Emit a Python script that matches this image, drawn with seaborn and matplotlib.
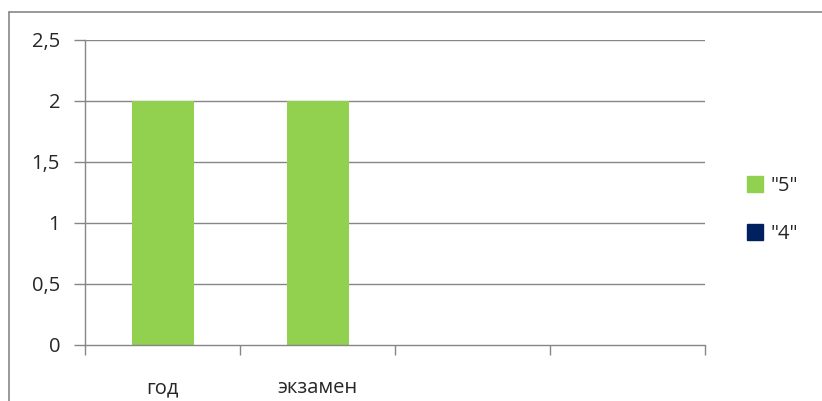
import matplotlib
matplotlib.use("Agg")
import matplotlib.pyplot as plt
from matplotlib.lines import Line2D
import seaborn as sns
import pandas as pd

categories = ["год", "экзамен", " ", "  "]
series_names = ['"5"', '"4"']
values_5 = [2, 2, 0, 0]
values_4 = [0, 0, 0, 0]
colors = ["#92D050", "#002060"]
yticks = [0, 0.5, 1, 1.5, 2, 2.5]
ytick_labels = ["0", "0,5", "1", "1,5", "2", "2,5"]

df = pd.DataFrame({
    "cat": categories * 2,
    "val": values_5 + values_4,
    "series": [series_names[0]] * 4 + [series_names[1]] * 4,
})

sns.set_style("white")
plt.rcParams["font.family"] = ["Open Sans", "DejaVu Sans"]
FS = 14.5

fig = plt.figure(figsize=(8.22, 4.01), dpi=100)
ax = fig.add_axes([85 / 822, 1 - 345 / 401, 620 / 822, 305 / 401])

sns.barplot(data=df, x="cat", y="val", hue="series", order=categories,
            hue_order=series_names, palette=colors, dodge=False, width=0.4,
            ax=ax, legend=False, saturation=1, linewidth=0, edgecolor="none")

ax.set_xlim(-0.5, 3.5)
ax.set_ylim(0, 2.5)
ax.set_xlabel("")
ax.set_ylabel("")

grid_c = "#868686"
ax.set_yticks(yticks)
ax.set_yticklabels(ytick_labels, fontsize=FS)
for y in yticks[1:]:
    ax.axhline(y, color=grid_c, lw=1, zorder=0)

ax.set_xticks([-0.5, 0.5, 1.5, 2.5, 3.5])
ax.set_xticklabels([])
ax.set_xticks(range(len(categories)), minor=True)
ax.set_xticklabels(categories, minor=True, fontsize=FS)
ax.tick_params(axis="x", which="major", bottom=True, length=7, width=1, color=grid_c, direction="out")
ax.tick_params(axis="x", which="minor", bottom=True, length=0, pad=24)
ax.tick_params(axis="y", left=True, length=8, width=1, color=grid_c, direction="out", pad=10)

for s in ["top", "right"]:
    ax.spines[s].set_visible(False)
for s in ["left", "bottom"]:
    ax.spines[s].set_color(grid_c)
    ax.spines[s].set_linewidth(1)

handles = [Line2D([], [], marker="s", linestyle="", markersize=11,
                  markerfacecolor=c, markeredgecolor=c) for c in colors]
fig.legend(handles, series_names, loc="center left",
           bbox_to_anchor=(727 / 822, 1 - 210 / 401), frameon=False,
           fontsize=FS, handletextpad=0.25, labelspacing=1.4, handlelength=1.0)

# outer chart border (left and top)
bc = "#888888"
fig.add_artist(Line2D([8.5 / 822, 8.5 / 822], [0, 1 - 11.5 / 401], color=bc, lw=1.2,
                      transform=fig.transFigure))
fig.add_artist(Line2D([8.5 / 822, 1], [1 - 11.5 / 401, 1 - 11.5 / 401], color=bc, lw=1.2,
                      transform=fig.transFigure))

fig.savefig("out.png", dpi=100)
